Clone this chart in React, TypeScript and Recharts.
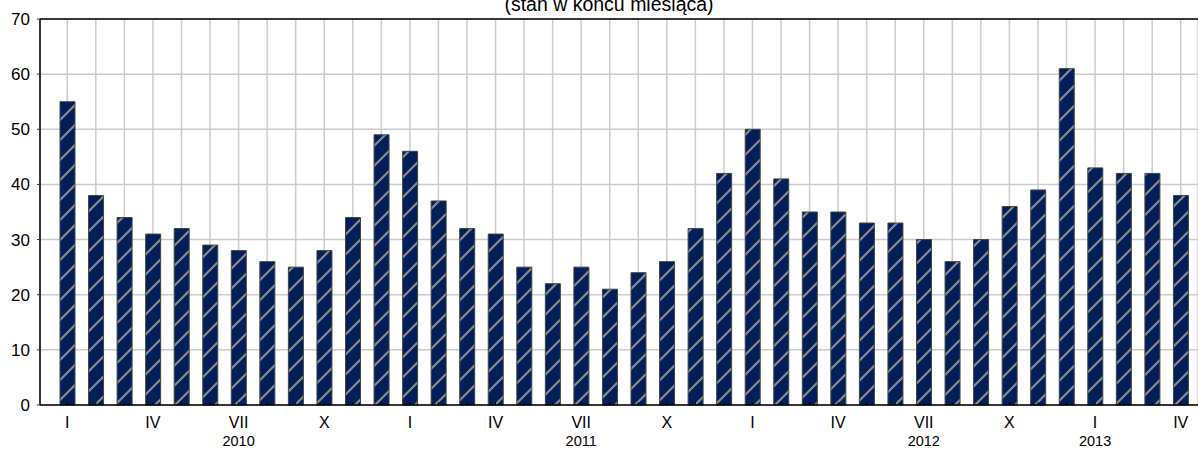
import React from 'react';
import {
  BarChart,
  Bar,
  XAxis,
  YAxis,
  CartesianGrid,
  ReferenceLine
} from 'recharts';

const months = [
  '2010-01', '2010-02', '2010-03', '2010-04', '2010-05', '2010-06', '2010-07', '2010-08', '2010-09', '2010-10', '2010-11', '2010-12',
  '2011-01', '2011-02', '2011-03', '2011-04', '2011-05', '2011-06', '2011-07', '2011-08', '2011-09', '2011-10', '2011-11', '2011-12',
  '2012-01', '2012-02', '2012-03', '2012-04', '2012-05', '2012-06', '2012-07', '2012-08', '2012-09', '2012-10', '2012-11', '2012-12',
  '2013-01', '2013-02', '2013-03', '2013-04'
];

const values = [
  55, 38, 34, 31, 32, 29, 28, 26, 25, 28, 34, 49,
  46, 37, 32, 31, 25, 22, 25, 21, 24, 26, 32, 42,
  50, 41, 35, 35, 33, 33, 30, 26, 30, 36, 39, 61,
  43, 42, 42, 38
];

// roman month label shown under every third month
const monthLabels: Record<string, string> = {
  '01': 'I',
  '04': 'IV',
  '07': 'VII',
  '10': 'X'
};

// year label and the month it sits under
const yearLabels: Record<string, string> = {
  '2010-07': '2010',
  '2011-07': '2011',
  '2012-07': '2012',
  '2013-01': '2013'
};

const yTicks = [0, 10, 20, 30, 40, 50, 60, 70];

const title = '(stan w końcu miesiąca)';

const data = months.map((m, i) => ({ name: m, value: values[i] }));

const FONT = '"Liberation Sans", Arial, sans-serif';

const MonthTick = (props: any) => {
  const { x, y, payload } = props;
  const key: string = payload.value;
  const month = key.slice(5);
  const label = monthLabels[month] || '';
  const year = yearLabels[key];
  return (
    <g>
      <line x1={x} x2={x} y1={y} y2={y - 3} stroke="#000" strokeWidth={1} />
      {label && (
        <text x={x} y={y + 23} textAnchor="middle" fontSize={16} fill="#000" fontFamily={FONT}>
          {label}
        </text>
      )}
      {year && (
        <text x={x} y={y + 41} textAnchor="middle" fontSize={14.5} fill="#000" fontFamily={FONT}>
          {year}
        </text>
      )}
    </g>
  );
};

export default function App() {
  return (
    <div style={{ position: 'absolute', left: 0, top: 0, width: 1198, height: 449, background: '#fff', overflow: 'hidden' }}>
      <div
        style={{
          position: 'absolute',
          left: 0,
          width: 1218,
          top: -5,
          textAlign: 'center',
          fontFamily: FONT,
          fontSize: 19.5,
          lineHeight: '19px',
          color: '#000'
        }}
      >
        {title}
      </div>
      <BarChart
        width={1198}
        height={449}
        data={data}
        margin={{ top: 19, right: 0, left: 0, bottom: 0 }}
        barCategoryGap="0%"
      >
        <defs>
          <pattern id="stripes" patternUnits="userSpaceOnUse" width="20" height="20">
            <rect x="0" y="0" width="20" height="20" fill="#00205B" />
            <line x1="-2" y1="22" x2="22" y2="-2" stroke="#8a8a8a" strokeWidth="2.2" />
            <line x1="-12" y1="12" x2="12" y2="-12" stroke="#8a8a8a" strokeWidth="2.2" />
            <line x1="8" y1="32" x2="32" y2="8" stroke="#8a8a8a" strokeWidth="2.2" />
          </pattern>
        </defs>
        <CartesianGrid stroke="#cccccc" strokeWidth={1.5} vertical horizontal />
        <XAxis
          dataKey="name"
          interval={0}
          height={44}
          padding={{ left: 13, right: 3 }}
          tickLine={false}
          tickSize={0}
          tickMargin={0}
          axisLine={{ stroke: '#000', strokeWidth: 1.5 }}
          tick={<MonthTick />}
        />
        <YAxis
          width={40}
          domain={[0, 70]}
          ticks={yTicks}
          interval={0}
          tickSize={3}
          tickMargin={7}
          tickLine={{ stroke: '#333' }}
          axisLine={{ stroke: '#000', strokeWidth: 1.5 }}
          tick={{ fontSize: 17, fill: '#000', fontFamily: FONT }}
        />
        <ReferenceLine y={70} stroke="#000" strokeWidth={1.5} />
        <Bar
          dataKey="value"
          barSize={15}
          fill="url(#stripes)"
          stroke="#444444"
          strokeWidth={1}
          isAnimationActive={false}
        />
      </BarChart>
    </div>
  );
}
